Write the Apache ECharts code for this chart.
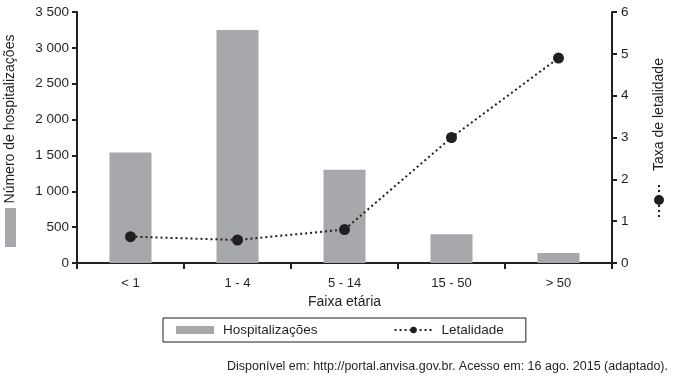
<!DOCTYPE html>
<html><head><meta charset="utf-8">
<script src="https://cdn.jsdelivr.net/npm/echarts@6/dist/echarts.min.js"></script>
<style>html,body{margin:0;padding:0;background:#fff}#c{width:674px;height:382px}</style>
</head><body><div id="c"></div>
<script>
const categories = ['< 1', '1 - 4', '5 - 14', '15 - 50', '> 50'];
const hospitalizacoes = [1540, 3250, 1300, 400, 140];
const letalidade = [0.63, 0.55, 0.8, 3.0, 4.9];
const source = 'Disponível em: http://portal.anvisa.gov.br. Acesso em: 16 ago. 2015 (adaptado).';

const ink = '#231f20';
const barColor = '#a7a8ab';
const font = 'Liberation Sans, Arial, sans-serif';
const fmtThousands = v => String(v).replace(/\B(?=(\d{3})+(?!\d))/g, ' ');

const chart = echarts.init(document.getElementById('c'), null, {renderer: 'canvas'});
chart.setOption({
  animation: false,
  backgroundColor: '#fff',
  textStyle: {fontFamily: font, color: ink},
  grid: {left: 77, right: 62, top: 12, bottom: 119, containLabel: false, outerBoundsMode: 'none'},
  legend: {
    left: 163, top: 318,
    orient: 'horizontal',
    borderColor: ink, borderWidth: 1, borderRadius: 0,
    padding: [5, 22, 5, 13],
    itemGap: 76,
    itemWidth: 38, itemHeight: 8,
    textStyle: {fontFamily: font, fontSize: 13.5, color: ink, padding: [0, 0, 0, 4]},
    data: [
      {name: 'Hospitalizações', icon: 'rect'},
      {name: 'Letalidade'}
    ]
  },
  xAxis: {
    type: 'category',
    data: categories,
    name: 'Faixa etária',
    nameLocation: 'middle',
    nameGap: 30,
    nameTextStyle: {fontFamily: font, fontSize: 14, color: ink},
    axisLine: {lineStyle: {color: ink, width: 2}},
    axisTick: {show: true, length: 6, lineStyle: {color: ink, width: 2}},
    axisLabel: {fontFamily: font, fontSize: 13, color: ink, margin: 14}
  },
  yAxis: [
    {
      type: 'value', min: 0, max: 3500, interval: 500,
      name: 'Número de hospitalizações',
      nameLocation: 'middle', nameRotate: 90, nameGap: 60,
      nameTextStyle: {fontFamily: font, fontSize: 14, color: ink, padding: [0, 0, 0, 37]},
      axisLine: {show: true, lineStyle: {color: ink, width: 2}},
      axisTick: {show: true, length: 5, lineStyle: {color: ink, width: 2}},
      splitLine: {show: false},
      axisLabel: {fontFamily: font, fontSize: 13.5, color: ink, margin: 8, formatter: fmtThousands}
    },
    {
      type: 'value', min: 0, max: 6, interval: 1, position: 'right',
      name: 'Taxa de letalidade',
      nameLocation: 'middle', nameRotate: 90, nameGap: 40,
      nameTextStyle: {fontFamily: font, fontSize: 14, color: ink, padding: [0, 0, 0, 46]},
      axisLine: {show: true, lineStyle: {color: ink, width: 2}},
      axisTick: {show: true, length: 5, lineStyle: {color: ink, width: 2}},
      splitLine: {show: false},
      axisLabel: {fontFamily: font, fontSize: 13.5, color: ink, margin: 9}
    }
  ],
  series: [
    {
      name: 'Hospitalizações', type: 'bar', yAxisIndex: 0,
      data: hospitalizacoes, barWidth: 42,
      itemStyle: {color: barColor}
    },
    {
      name: 'Letalidade', type: 'line', yAxisIndex: 1,
      data: letalidade,
      symbol: 'circle', symbolSize: 11,
      itemStyle: {color: ink},
      lineStyle: {color: ink, width: 2, type: [2, 3]},
      z: 5
    }
  ],
  graphic: [
    {type: 'rect', shape: {x: 5, y: 208, width: 11, height: 39}, style: {fill: barColor}},
    {type: 'line', shape: {x1: 659, y1: 185, x2: 659, y2: 220}, style: {stroke: ink, lineWidth: 2, lineDash: [2, 3]}},
    {type: 'circle', shape: {cx: 659, cy: 200, r: 5}, style: {fill: ink}},
    {type: 'text', right: 6, top: 360, style: {text: source, fontFamily: font, fontSize: 12.5, fill: ink}}
  ]
});
</script></body></html>
